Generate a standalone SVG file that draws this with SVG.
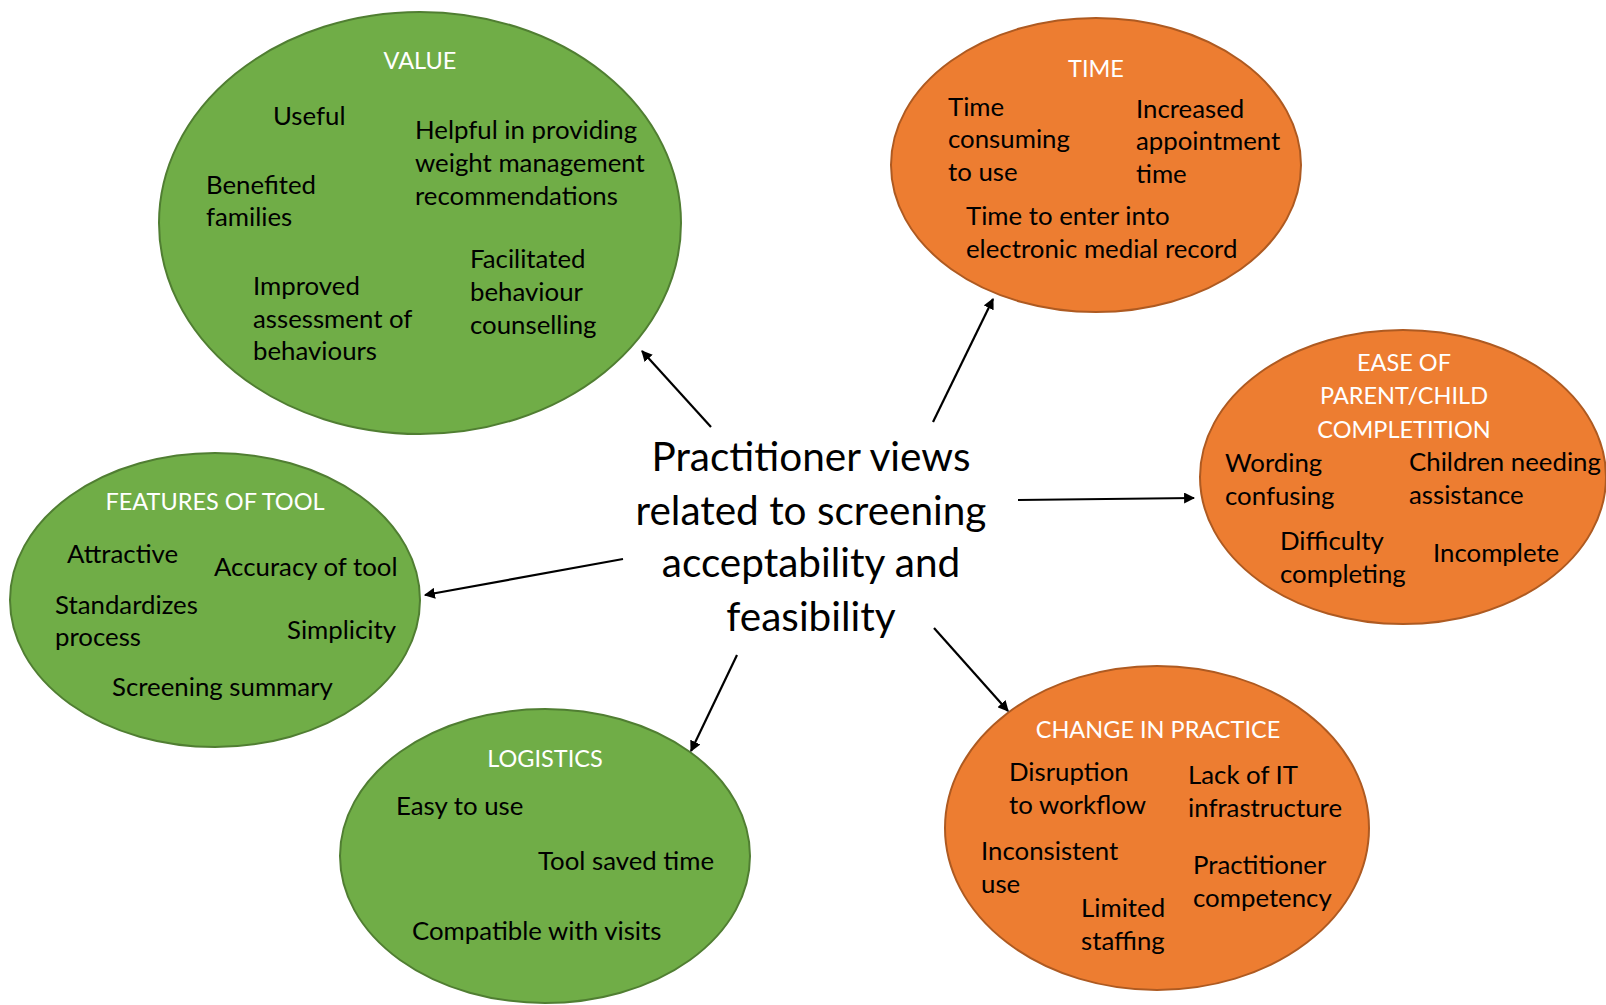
<svg xmlns="http://www.w3.org/2000/svg" width="1606" height="1005" viewBox="0 0 1606 1005">
<defs>
<marker id="ah" viewBox="0 0 10 10" refX="9" refY="5" markerWidth="5" markerHeight="5" orient="auto" markerUnits="strokeWidth"><path d="M0,0 L10,5 L0,10 z" fill="#000"/></marker>
<style>
.g{fill:#70AD47;stroke:#507E32;stroke-width:2}
.o{fill:#ED7D31;stroke:#AE5A21;stroke-width:2}
text{font-family:Lato,"Open Sans",sans-serif}
.h{fill:#fff;font-size:23.5px;text-anchor:middle}
.t{fill:#000;font-size:25.8px}
.c{fill:#000;font-size:40.5px;text-anchor:middle}
.a{stroke:#000;stroke-width:2.2;fill:none;marker-end:url(#ah)}
</style>
</defs>
<rect width="1606" height="1005" fill="#fff"/>
<g id="value">
<ellipse class="g" cx="420" cy="223" rx="261" ry="211"/>
<text class="h" x="420" y="69">VALUE</text>
<text class="t" x="273" y="125">Useful</text>
<text class="t" x="415" y="139">Helpful in providing</text>
<text class="t" x="415" y="172">weight management</text>
<text class="t" x="415" y="205">recommendations</text>
<text class="t" x="206" y="194">Benefited</text>
<text class="t" x="206" y="226">families</text>
<text class="t" x="253" y="295">Improved</text>
<text class="t" x="253" y="328">assessment of</text>
<text class="t" x="253" y="360">behaviours</text>
<text class="t" x="470" y="268">Facilitated</text>
<text class="t" x="470" y="301">behaviour</text>
<text class="t" x="470" y="334">counselling</text>
</g>
<g id="time">
<ellipse class="o" cx="1096" cy="165" rx="205" ry="147"/>
<text class="h" x="1096" y="77">TIME</text>
<text class="t" x="948" y="116">Time</text>
<text class="t" x="948" y="148">consuming</text>
<text class="t" x="948" y="181">to use</text>
<text class="t" x="1136" y="118">Increased</text>
<text class="t" x="1136" y="150">appointment</text>
<text class="t" x="1136" y="183">time</text>
<text class="t" x="966" y="225">Time to enter into</text>
<text class="t" x="966" y="258">electronic medial record</text>
</g>
<g id="ease">
<ellipse class="o" cx="1403" cy="477" rx="203" ry="147"/>
<text class="h" x="1404" y="371">EASE OF</text>
<text class="h" x="1404" y="404">PARENT/CHILD</text>
<text class="h" x="1404" y="438">COMPLETITION</text>
<text class="t" x="1225" y="472">Wording</text>
<text class="t" x="1225" y="505">confusing</text>
<text class="t" x="1409" y="471">Children needing</text>
<text class="t" x="1409" y="504">assistance</text>
<text class="t" x="1280" y="550">Difficulty</text>
<text class="t" x="1280" y="583">completing</text>
<text class="t" x="1433" y="562">Incomplete</text>
</g>
<g id="features">
<ellipse class="g" cx="215" cy="600" rx="205" ry="147"/>
<text class="h" x="215" y="510">FEATURES OF TOOL</text>
<text class="t" x="67" y="563">Attractive</text>
<text class="t" x="214" y="576">Accuracy of tool</text>
<text class="t" x="55" y="614">Standardizes</text>
<text class="t" x="55" y="646">process</text>
<text class="t" x="287" y="639">Simplicity</text>
<text class="t" x="112" y="696">Screening summary</text>
</g>
<g id="logistics">
<ellipse class="g" cx="545" cy="856" rx="205" ry="147"/>
<text class="h" x="545" y="767">LOGISTICS</text>
<text class="t" x="396" y="815">Easy to use</text>
<text class="t" x="538" y="870">Tool saved time</text>
<text class="t" x="412" y="940">Compatible with visits</text>
</g>
<g id="change">
<ellipse class="o" cx="1157" cy="828" rx="212" ry="162"/>
<text class="h" x="1158" y="738">CHANGE IN PRACTICE</text>
<text class="t" x="1009" y="781">Disruption</text>
<text class="t" x="1009" y="814">to workflow</text>
<text class="t" x="1188" y="784">Lack of IT</text>
<text class="t" x="1188" y="817">infrastructure</text>
<text class="t" x="981" y="860">Inconsistent</text>
<text class="t" x="981" y="893">use</text>
<text class="t" x="1193" y="874">Practitioner</text>
<text class="t" x="1193" y="907">competency</text>
<text class="t" x="1081" y="917">Limited</text>
<text class="t" x="1081" y="950">staffing</text>
</g>
<g id="center">
<text class="c" x="811" y="471">Practitioner views</text>
<text class="c" x="811" y="525">related to screening</text>
<text class="c" x="811" y="577">acceptability and</text>
<text class="c" x="811" y="631">feasibility</text>
</g>
<g id="connectors">
<line class="a" x1="711" y1="427" x2="642" y2="351"/>
<line class="a" x1="933" y1="422" x2="993" y2="299"/>
<line class="a" x1="1018" y1="500" x2="1194" y2="498"/>
<line class="a" x1="623" y1="559" x2="425" y2="595"/>
<line class="a" x1="737" y1="655" x2="691" y2="751"/>
<line class="a" x1="934" y1="628" x2="1008" y2="711"/>
</g>
</svg>
